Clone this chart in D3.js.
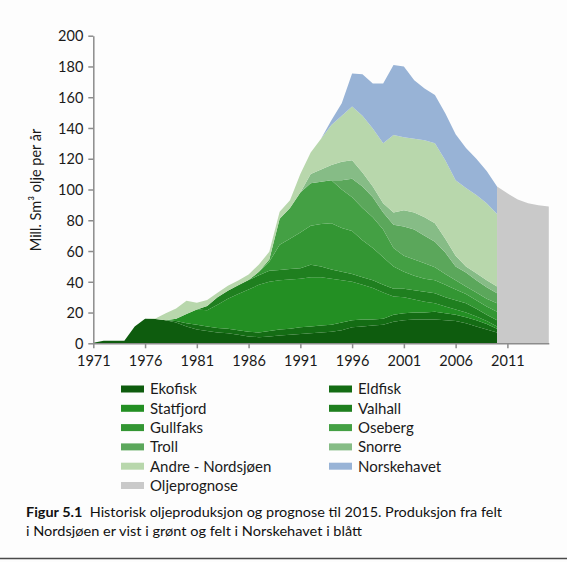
<!DOCTYPE html>
<html lang="no">

<head>
    <meta charset="UTF-8">
    <title>Historisk oljeproduksjon og prognose</title>
    <script src="https://d3js.org/d3.v7.min.js"></script>
    <style>
        body {
            margin: 0;
            background-color: #fdfdfd;
        }

        #chart {
            display: block;
            font-family: Lato, "Open Sans", sans-serif;
        }

        .axis path,
        .axis line {
            stroke: #8c8c8c;
            stroke-width: 1.5;
        }

        .axis text {
            font-family: Lato, "Open Sans", sans-serif;
            font-size: 14.5px;
            fill: #1a1a1a;
        }
    </style>
</head>

<body>
    <svg id="chart" width="567" height="562"></svg>
    <script>
        // år 1971-2010, mill. Sm3 olje per år
        const years = d3.range(1971, 2011);

        const ekofisk = [0.3, 1.6, 1.6, 1.7, 11, 16, 15.8, 15, 13.5, 11,
            9, 8, 7, 6.5, 5.5, 4.5, 4, 4.5, 5, 5.5,
            6, 6.5, 7, 7.5, 8.5, 10.5, 11, 11.5, 12, 14,
            15, 15.5, 15.5, 15.5, 15, 14.5, 13, 11, 9, 7];
        const eldfisk = [0, 0, 0, 0, 0, 0, 0, 0, 1, 2,
            3, 3, 3, 3, 3, 3, 3, 3.5, 4, 4,
            4.5, 4.5, 4.5, 4.5, 5, 4.5, 4.5, 4, 4, 4.5,
            4.5, 4.5, 4.5, 5, 4.5, 4, 4, 4, 3.5, 2.5];
        const statfjord = [0, 0, 0, 0, 0, 0, 0, 0, 1.5, 6,
            10, 10.5, 15, 19.5, 23.5, 27.5, 31, 32, 32, 32,
            31.5, 32, 31.5, 30, 27.5, 25, 22.5, 20.5, 17, 12,
            10.5, 8.5, 7, 5.5, 4.5, 3.5, 3, 2.5, 2, 1.5];
        const valhall = [0, 0, 0, 0, 0, 0, 0, 0, 0, 0,
            0, 2.8, 4.9, 5.2, 5.7, 6.1, 6.2, 7.2, 6.6, 6.8,
            6.8, 8, 7, 6, 5.5, 5, 5, 5, 5, 5,
            5.5, 6, 6.5, 6.5, 6, 6, 6, 5, 4, 4];
        const gullfaks = [0, 0, 0, 0, 0, 0, 0, 0, 0, 0,
            0, 0, 0, 0, 0, 0, 2.3, 5.8, 16.4, 19.7,
            23.2, 25.5, 27.5, 30, 28.5, 28, 24, 21, 18, 14.5,
            11, 9.5, 8.5, 8.5, 8, 7, 6, 5.5, 5.5, 5.5];
        const oseberg = [0, 0, 0, 0, 0, 0, 0, 0, 0, 0,
            0, 0, 0, 0, 0, 0, 0, 1.5, 17, 20,
            26, 27.5, 27.5, 28, 25, 22, 21, 20, 18, 12,
            10.5, 10.5, 10, 8.5, 7, 6, 5, 5, 5, 5.5];
        const troll = [0, 0, 0, 0, 0, 0, 0, 0, 0, 0,
            0, 0, 0, 0, 0, 0, 0, 0, 0, 0,
            0, 0, 0, 0, 6, 12, 14, 13, 11, 15,
            19, 19.5, 18, 16.5, 14, 9, 9, 8, 7.5, 6.5];
        const snorre = [0, 0, 0, 0, 0, 0, 0, 0, 0, 0,
            0, 0, 0, 0, 0, 0, 0, 0, 0, 0,
            0, 6, 8, 10, 12, 12, 9, 7, 6, 8,
            10.5, 11, 12, 12, 9, 7, 4, 4.5, 4.5, 4.5];
        const andreNordsjoen = [0, 0, 0, 0, 0, 0, 0.3, 4.5, 6.7, 8.7,
            4.3, 3.9, 3, 3.3, 3.2, 3.7, 4.8, 5, 4.5, 5,
            12, 14, 20, 26, 30, 35, 37, 37.6, 39, 50.4,
            47.5, 48, 50, 52, 51, 49, 51, 51, 50, 47];
        const norskehavet = [0, 0, 0, 0, 0, 0, 0, 0, 0, 0,
            0, 0, 0, 0, 0, 0, 0, 0, 0, 0,
            0, 0, 0, 3, 8, 21.5, 27, 29.4, 39, 45.6,
            46, 38, 33.7, 31.5, 30.5, 30, 26, 23.5, 21, 18];

        // prognose 2010-2015
        const progYears = [2010, 2011, 2012, 2013, 2014, 2015];
        const oljeprognose = [102, 97.5, 93.5, 91, 89.8, 89];

        const seriesNames = ['Ekofisk', 'Eldfisk', 'Statfjord', 'Valhall', 'Gullfaks',
            'Oseberg', 'Troll', 'Snorre', 'Andre - Nordsjøen', 'Norskehavet'];
        const seriesValues = [ekofisk, eldfisk, statfjord, valhall, gullfaks,
            oseberg, troll, snorre, andreNordsjoen, norskehavet];
        const colors = ['#0e5c0e', '#146c14', '#238f23', '#1f7f1f', '#339633',
            '#44a044', '#5ba75b', '#86bc86', '#b8d7ac', '#98b3d6'];
        const progColor = '#c9c9c9';

        const yTicks = d3.range(0, 201, 20);
        const xTicks = d3.range(1971, 2012, 5);

        // legend: two columns, row-major order as in the figure
        const legendLeft = ['Ekofisk', 'Statfjord', 'Gullfaks', 'Troll', 'Andre - Nordsjøen', 'Oljeprognose'];
        const legendRight = ['Eldfisk', 'Valhall', 'Oseberg', 'Snorre', 'Norskehavet'];

        const svg = d3.select('#chart');

        const x = d3.scaleLinear().domain([1971, 2015]).range([93.3, 548.8]);
        const y = d3.scaleLinear().domain([0, 200]).range([343.3, 35.7]);

        // table for d3.stack
        const rows = years.map((yr, i) => {
            const row = { year: yr };
            seriesNames.forEach((name, j) => { row[name] = seriesValues[j][i]; });
            return row;
        });

        const stacked = d3.stack().keys(seriesNames)(rows);

        const area = d3.area()
            .x(d => x(d.data.year))
            .y0(d => y(d[0]))
            .y1(d => y(d[1]));

        svg.append('g')
            .selectAll('path')
            .data(stacked)
            .enter()
            .append('path')
            .attr('d', area)
            .attr('fill', (d, i) => colors[i]);

        const progArea = d3.area()
            .x((d, i) => x(progYears[i]))
            .y0(y(0))
            .y1(d => y(d));

        svg.append('path')
            .datum(oljeprognose)
            .attr('d', progArea)
            .attr('fill', progColor);

        // axes
        svg.append('g')
            .attr('class', 'axis')
            .attr('transform', `translate(${x(1971)},0)`)
            .call(d3.axisLeft(y).tickValues(yTicks).tickSize(5).tickSizeOuter(0).tickPadding(5))
            .call(g => g.selectAll('text').attr('dy', '0.36em'));

        svg.append('g')
            .attr('class', 'axis')
            .attr('transform', `translate(0,${y(0)})`)
            .call(d3.axisBottom(x).tickValues(xTicks).tickFormat(d3.format('d'))
                .tickSize(5).tickSizeOuter(0).tickPadding(7));

        svg.append('text')
            .attr('transform', 'translate(41,190) rotate(-90)')
            .attr('text-anchor', 'middle')
            .attr('font-size', 14.5)
            .attr('fill', '#1a1a1a')
            .text('Mill. Sm³ olje per år');

        // legend
        const colorOf = name => name === 'Oljeprognose' ? progColor : colors[seriesNames.indexOf(name)];

        function drawLegend(names, x0) {
            const g = svg.append('g');
            const item = g.selectAll('g')
                .data(names)
                .enter()
                .append('g')
                .attr('transform', (d, i) => `translate(${x0},${389 + i * 19.3})`);
            item.append('rect')
                .attr('x', 0)
                .attr('y', -3.5)
                .attr('width', 23)
                .attr('height', 7)
                .attr('fill', d => colorOf(d));
            item.append('text')
                .attr('x', 29)
                .attr('dy', '0.36em')
                .attr('font-size', 15)
                .attr('fill', '#1a1a1a')
                .text(d => d);
        }

        drawLegend(legendLeft, 121);
        drawLegend(legendRight, 329);

        // caption
        const cap1 = svg.append('text')
            .attr('x', 26)
            .attr('y', 517)
            .attr('font-size', 14)
            .attr('fill', '#111')
            .attr('textLength', 476)
            .attr('lengthAdjust', 'spacingAndGlyphs');
        cap1.append('tspan').attr('font-weight', 'bold').text('Figur 5.1');
        cap1.append('tspan').text('\u00a0 Historisk oljeproduksjon og prognose til 2015. Produksjon fra felt');

        svg.append('text')
            .attr('x', 26)
            .attr('y', 536)
            .attr('font-size', 14)
            .attr('fill', '#111')
            .attr('textLength', 336)
            .attr('lengthAdjust', 'spacingAndGlyphs')
            .text('i Nordsjøen er vist i grønt og felt i Norskehavet i blått');

        svg.append('line')
            .attr('x1', 0)
            .attr('x2', 567)
            .attr('y1', 558.5)
            .attr('y2', 558.5)
            .attr('stroke', '#4a4a4a')
            .attr('stroke-width', 1.5);
    </script>
</body>

</html>
